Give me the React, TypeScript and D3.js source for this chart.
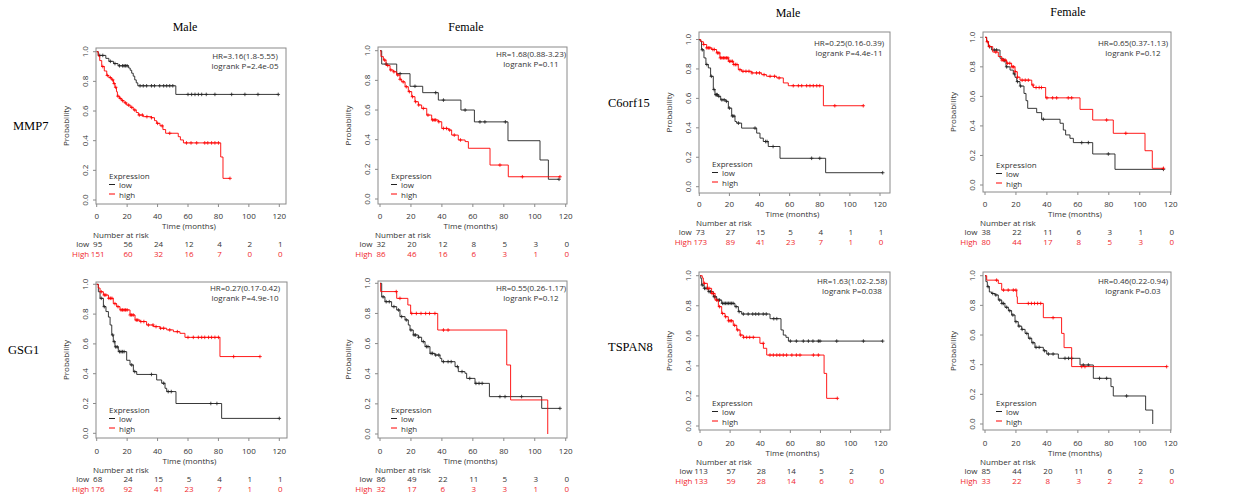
import React from 'react';
import * as d3 from 'd3';

type Step = [number, number];

const timeTicks = [0, 20, 40, 60, 80, 100, 120];
const probTicks = [0, 0.2, 0.4, 0.6, 0.8, 1.0];

// ---------- MMP7 Male ----------
const mmp7MaleLow: Step[] = [[0,1],[1,0.975],[6,0.955],[8,0.935],[11,0.92],[14,0.905],[21,0.89],[22,0.875],[23,0.855],[24,0.835],[25,0.81],[26,0.79],[27,0.77],[52,0.712],[119.3,0.712]];
const mmp7MaleLowCens = [2,4,9,12,15,17,18,19,20,28.5,30.6,32.8,36,38,41.4,44,46,48,50,60,62.4,64.6,66.8,69,72,77.7,88.7,97.4,106,119.3];
const mmp7MaleHigh: Step[] = [[0,1],[1,0.97],[2,0.94],[3.3,0.9],[5,0.87],[6.6,0.84],[8,0.825],[9.8,0.81],[11,0.785],[12,0.76],[13,0.73],[13.6,0.7],[15,0.685],[16.4,0.67],[18,0.655],[19.7,0.64],[22,0.625],[24,0.607],[26,0.59],[27.4,0.573],[30.6,0.562],[36,0.555],[38,0.535],[39.4,0.517],[41.6,0.5],[43.5,0.475],[45.3,0.45],[53.6,0.427],[55,0.405],[57,0.385],[81.5,0.29],[83,0.146],[87.6,0.146]];
const mmp7MaleHighCens = [4,7,9,10.5,11.5,12.5,14,15.5,17,19,21,23,25,28,30,33,36,40,43,48,59,62,65.7,71,73,75.5,77.7,80,87.6];
const mmp7MaleRiskLow = [95,56,24,12,4,2,1];
const mmp7MaleRiskHigh = [151,60,32,16,7,0,0];

// ---------- MMP7 Female ----------
const mmp7FemaleLow: Step[] = [[0,1],[1.1,0.91],[10.8,0.845],[19.4,0.76],[27.6,0.717],[37.7,0.667],[52.3,0.6],[61,0.52],[82.7,0.393],[103.4,0.263],[108.8,0.133],[115.7,0.133]];
const mmp7FemaleLowCens = [4,13,22.6,36,41,55,64.6,67.8,81,115.7];
const mmp7FemaleHigh: Step[] = [[0,1],[0.6,0.96],[2.2,0.937],[3.9,0.9],[6.5,0.87],[8.6,0.858],[10.8,0.836],[12.9,0.807],[14,0.79],[16.2,0.757],[18.3,0.724],[20.5,0.69],[22.6,0.656],[24.8,0.634],[26.9,0.611],[30.2,0.566],[33.4,0.533],[37.7,0.521],[39.9,0.476],[44.2,0.465],[46.3,0.431],[50.6,0.398],[55,0.387],[57.1,0.342],[71.1,0.229],[82.9,0.15],[116.3,0.15]];
const mmp7FemaleHighCens = [3,5,7,9,11.5,13,15,17,19,21,23,25,28,31,34,35,36,38,41,43,45,48,52,77.5,92,116.3];
const mmp7FemaleRiskLow = [32,20,12,8,5,3,0];
const mmp7FemaleRiskHigh = [86,46,16,6,3,1,0];

// ---------- GSG1 Male ----------
const gsg1MaleLow: Step[] = [[0,1],[1.1,0.95],[2.2,0.906],[4.4,0.85],[6.1,0.817],[7.7,0.78],[8.8,0.727],[9.9,0.66],[10.9,0.615],[12,0.58],[14.2,0.548],[19.7,0.49],[21.9,0.459],[24.1,0.414],[26.3,0.395],[39.4,0.358],[42.7,0.336],[44.9,0.302],[46,0.28],[52.1,0.2],[82.1,0.1],[120,0.1]];
const gsg1MaleLowCens = [3,5,10.5,11.5,12.5,13.5,15,16,17,18,23,25,36,44,47,49,75,79,120];
const gsg1MaleHigh: Step[] = [[0,1],[1,0.975],[2.2,0.95],[4.4,0.928],[7.7,0.906],[10.9,0.87],[13.1,0.85],[15.3,0.828],[21.9,0.794],[25.2,0.76],[28.5,0.75],[32.8,0.727],[37.2,0.716],[41.6,0.705],[46,0.694],[50.4,0.682],[54.7,0.671],[58,0.644],[81,0.515],[107.3,0.515]];
const gsg1MaleHighCens = [3,5,6,8,9,10,12,14,16,17,18,19,20,22,23,24,26,27,29,31,34,37,39,42,44,48,53,60,63.5,66.8,69,71,73.5,75.5,77.7,80,90,107.3];
const gsg1MaleRiskLow = [68,24,15,5,4,1,1];
const gsg1MaleRiskHigh = [176,92,41,23,7,1,0];

// ---------- GSG1 Female ----------
const gsg1FemaleLow: Step[] = [[0,1],[1.1,0.91],[3.2,0.878],[7.5,0.845],[10.8,0.823],[12.9,0.779],[16.2,0.757],[18.3,0.723],[19.4,0.69],[21.5,0.657],[24.8,0.642],[26.9,0.613],[29.1,0.58],[32.3,0.535],[35.5,0.524],[38.8,0.502],[39.9,0.48],[48.5,0.447],[50.6,0.414],[54.9,0.403],[56,0.369],[61.4,0.336],[70.7,0.248],[104.5,0.17],[116.3,0.17]];
const gsg1FemaleLowCens = [2,4,6,9,12,14,17,20,22,23,25,28,30,31,33,34,36,38,41,44,46,50,53,58,62,64,66,77.5,80.8,91.5,116.3];
const gsg1FemaleHigh: Step[] = [[0,1],[0.4,0.945],[10.8,0.9],[18,0.856],[19.8,0.8],[37.3,0.69],[81.9,0.458],[84.4,0.226],[108.4,0],[108.4,0]];
const gsg1FemaleHighCens = [10.5,12.9,20.5,23.5,26.5,29.5,32,35.5,41,44];
const gsg1FemaleRiskLow = [86,49,22,11,5,3,0];
const gsg1FemaleRiskHigh = [32,17,6,3,3,1,0];

// ---------- C6orf15 Male ----------
const c6MaleLow: Step[] = [[0,1],[0.5,0.99],[1.5,0.93],[3.1,0.875],[4.4,0.83],[6,0.807],[7.5,0.75],[9.3,0.66],[10.4,0.625],[12.6,0.614],[14.2,0.59],[17.7,0.58],[19.3,0.534],[21.5,0.48],[23.7,0.443],[24.8,0.432],[28.1,0.398],[38.1,0.364],[40.3,0.33],[42.5,0.307],[45.8,0.273],[53.6,0.193],[83.9,0.095],[121.8,0.095]];
const c6MaleLowCens = [2,5,8,9.8,11,11.5,12,13,15,16.5,18,20,22,23,26,37,44,45,49,74.6,80,121.8];
const c6MaleHigh: Step[] = [[0,1],[1,0.985],[2.7,0.966],[4.9,0.943],[8.2,0.932],[11.5,0.909],[13.7,0.875],[19.3,0.852],[22.6,0.83],[25.9,0.795],[28.1,0.784],[34.8,0.773],[41.4,0.761],[44.7,0.75],[51.4,0.739],[55.8,0.705],[59.1,0.686],[82.4,0.55],[108.9,0.55]];
const c6MaleHighCens = [3,5,6,7,9,10,12,13,14,15,16,17,18,19,20,21,22,23,24,25,27,29,31,33,35,38,40,43,47,50,53,62.4,65.8,68,71.3,73.5,75.7,78,80,90,108.9];
const c6MaleRiskLow = [73,27,15,5,4,1,1];
const c6MaleRiskHigh = [173,89,41,23,7,1,0];

// ---------- C6orf15 Female ----------
const c6FemaleLow: Step[] = [[0,1],[1.1,0.97],[2.2,0.937],[4.3,0.914],[9.7,0.858],[11.8,0.842],[13.6,0.8],[16.2,0.778],[18.3,0.752],[19.4,0.729],[20.5,0.7],[22.6,0.67],[25.2,0.62],[26.5,0.571],[27.6,0.519],[33.4,0.49],[36.6,0.445],[48.5,0.418],[50.6,0.372],[52.1,0.339],[54.9,0.316],[57.1,0.287],[69.6,0.21],[84,0.106],[115.3,0.106]];
const c6FemaleLowCens = [3,6,7.5,12.5,14,19,21,23,37.7,62.5,66.8,79.7,115.3];
const c6FemaleHigh: Step[] = [[0,1],[1,0.97],[2.2,0.937],[5,0.9],[8.6,0.87],[10.8,0.846],[14,0.824],[17.2,0.8],[19.4,0.767],[20.9,0.73],[22.6,0.71],[30.2,0.677],[31.2,0.66],[39.2,0.59],[61.4,0.512],[69.6,0.44],[82.9,0.35],[103.4,0.232],[108.1,0.113],[115.3,0.113]];
const c6FemaleHighCens = [1.5,3,7,11,12,13,14.5,16,17.5,18.5,19.5,21,24,26,28,31,33,35,36.5,40,43.7,46.3,53.8,56,78.6,91,115.3];
const c6FemaleRiskLow = [38,22,11,6,3,1,0];
const c6FemaleRiskHigh = [80,44,17,8,5,3,0];

// ---------- TSPAN8 Male ----------
const tspanMaleLow: Step[] = [[0,1],[0.5,0.982],[1.1,0.938],[2.7,0.916],[5.5,0.894],[8.9,0.86],[11.1,0.838],[14.4,0.816],[23.2,0.794],[25.5,0.761],[27.7,0.745],[46.5,0.714],[53.8,0.639],[55.3,0.605],[57.1,0.59],[58.7,0.565],[121.3,0.565]];
const tspanMaleLowCens = [1.5,3,4,6,7,9.5,10,12,13,15,16,17,18,19,20,21,22,24,26,28.8,32,35,37,39,42,44,49,51,60,64,68.6,72,75,78.6,79.7,90.8,108.5,121.3];
const tspanMaleHigh: Step[] = [[0,1],[1.5,0.985],[2.2,0.949],[4.9,0.916],[7.7,0.882],[10,0.838],[12.2,0.794],[14.4,0.749],[16.6,0.727],[18.8,0.7],[22.1,0.67],[24.4,0.639],[26.6,0.605],[28.8,0.59],[39.8,0.55],[42.1,0.517],[44.3,0.472],[82.4,0.35],[84.1,0.184],[91.2,0.184]];
const tspanMaleHighCens = [3,5,6,8,9,11,13,15,17,19,20,21,23,25,27,29,31,33,35.4,42,46.5,48.7,51,53,55.3,57.5,61,64,66.4,75.3,78.6,91.2];
const tspanMaleRiskLow = [113,57,28,14,5,2,0];
const tspanMaleRiskHigh = [133,59,28,14,6,0,0];

// ---------- TSPAN8 Female ----------
const tspanFemaleLow: Step[] = [[0,1],[0.6,0.96],[1.5,0.926],[2.8,0.89],[4.3,0.88],[6.5,0.87],[8.6,0.836],[10.8,0.813],[12.9,0.787],[15.1,0.764],[17.2,0.735],[19.4,0.69],[21.5,0.66],[23.7,0.638],[25.9,0.611],[28,0.578],[30.2,0.548],[32.3,0.517],[37.7,0.494],[39.9,0.472],[47.4,0.443],[61.4,0.398],[70,0.308],[81.4,0.252],[82.9,0.189],[103.8,0.094],[108.4,0],[108.4,0]];
const tspanFemaleLowCens = [2,5,7,9.5,11,12,14,16,18,20,22,24,27,29,31,33,35,38.5,41,44,51.7,54,56,63.5,66.8,74,78.6,91.5];
const tspanFemaleHigh: Step[] = [[0,1],[1.1,0.97],[8.6,0.948],[10.8,0.903],[20.5,0.858],[20.9,0.813],[37.7,0.717],[49.5,0.611],[51.1,0.515],[56,0.387],[117.4,0.387]];
const tspanFemaleHighCens = [7.5,12,15,18.3,20,28,30,32,34,36,44,62.5,64.6,117.4];
const tspanFemaleRiskLow = [85,44,20,11,6,2,0];
const tspanFemaleRiskHigh = [33,22,8,3,2,2,0];

const titles = [
  { text: 'Male', x: 185, y: 27 },
  { text: 'Female', x: 466, y: 27 },
  { text: 'Male', x: 788, y: 13 },
  { text: 'Female', x: 1068, y: 12 },
];
const genes = [
  { text: 'MMP7', x: 13, y: 126 },
  { text: 'GSG1', x: 8, y: 350 },
  { text: 'C6orf15', x: 608, y: 103 },
  { text: 'TSPAN8', x: 608, y: 347 },
];

interface Layout { l: number; t: number; r: number; b: number; x0: number; x120: number; y0: number; y1: number; hrX: number; hrY: number; tickY: number; legY: number; }
interface PanelDef {
  low: Step[]; lowC: number[]; high: Step[]; highC: number[];
  riskLow: number[]; riskHigh: number[]; hr: string; p: string; L: Layout;
}

const panels: PanelDef[] = [
  { low: mmp7MaleLow, lowC: mmp7MaleLowCens, high: mmp7MaleHigh, highC: mmp7MaleHighCens, riskLow: mmp7MaleRiskLow, riskHigh: mmp7MaleRiskHigh, hr: 'HR=3.16(1.8-5.55)', p: 'logrank P=2.4e-05',
    L: { l: 96, t: 48, r: 286, b: 204, x0: 96.7, x120: 279.3, y0: 200, y1: 51.7, hrX: 245, hrY: 55, tickY: 215, legY: 175 } },
  { low: mmp7FemaleLow, lowC: mmp7FemaleLowCens, high: mmp7FemaleHigh, highC: mmp7FemaleHighCens, riskLow: mmp7FemaleRiskLow, riskHigh: mmp7FemaleRiskHigh, hr: 'HR=1.68(0.88-3.23)', p: 'logrank P=0.11',
    L: { l: 378, t: 47, r: 567, b: 204, x0: 380, x120: 565.7, y0: 199, y1: 50.7, hrX: 531, hrY: 53, tickY: 215, legY: 175 } },
  { low: gsg1MaleLow, lowC: gsg1MaleLowCens, high: gsg1MaleHigh, highC: gsg1MaleHighCens, riskLow: gsg1MaleRiskLow, riskHigh: gsg1MaleRiskHigh, hr: 'HR=0.27(0.17-0.42)', p: 'logrank P=4.9e-10',
    L: { l: 96, t: 282, r: 287, b: 438, x0: 96.7, x120: 279.3, y0: 433.3, y1: 284.3, hrX: 245, hrY: 287, tickY: 450, legY: 409 } },
  { low: gsg1FemaleLow, lowC: gsg1FemaleLowCens, high: gsg1FemaleHigh, highC: gsg1FemaleHighCens, riskLow: gsg1FemaleRiskLow, riskHigh: gsg1FemaleRiskHigh, hr: 'HR=0.55(0.26-1.17)', p: 'logrank P=0.12',
    L: { l: 378, t: 281, r: 567, b: 438, x0: 380, x120: 565.7, y0: 434, y1: 283.3, hrX: 531, hrY: 287, tickY: 450, legY: 409 } },
  { low: c6MaleLow, lowC: c6MaleLowCens, high: c6MaleHigh, highC: c6MaleHighCens, riskLow: c6MaleRiskLow, riskHigh: c6MaleRiskHigh, hr: 'HR=0.25(0.16-0.39)', p: 'logrank P=4.4e-11',
    L: { l: 699, t: 32, r: 890, b: 193, x0: 699.3, x120: 880, y0: 186.7, y1: 39.5, hrX: 849, hrY: 42, tickY: 203, legY: 163 } },
  { low: c6FemaleLow, lowC: c6FemaleLowCens, high: c6FemaleHigh, highC: c6FemaleHighCens, riskLow: c6FemaleRiskLow, riskHigh: c6FemaleRiskHigh, hr: 'HR=0.65(0.37-1.13)', p: 'logrank P=0.12',
    L: { l: 983, t: 32, r: 1171, b: 192, x0: 985, x120: 1170.7, y0: 185, y1: 37.3, hrX: 1133, hrY: 42, tickY: 203, legY: 164 } },
  { low: tspanMaleLow, lowC: tspanMaleLowCens, high: tspanMaleHigh, highC: tspanMaleHighCens, riskLow: tspanMaleRiskLow, riskHigh: tspanMaleRiskHigh, hr: 'HR=1.63(1.02-2.58)', p: 'logrank P=0.038',
    L: { l: 699, t: 272, r: 890, b: 430, x0: 700, x120: 880.7, y0: 426, y1: 275.7, hrX: 852, hrY: 280, tickY: 442, legY: 402 } },
  { low: tspanFemaleLow, lowC: tspanFemaleLowCens, high: tspanFemaleHigh, highC: tspanFemaleHighCens, riskLow: tspanFemaleRiskLow, riskHigh: tspanFemaleRiskHigh, hr: 'HR=0.46(0.22-0.94)', p: 'logrank P=0.03',
    L: { l: 983, t: 272, r: 1171, b: 430, x0: 985, x120: 1170.7, y0: 424, y1: 275.7, hrX: 1133, hrY: 280, tickY: 442, legY: 402 } },
];

const SANS = "'Open Sans', 'DejaVu Sans', sans-serif";
const SERIF = "'Liberation Serif', 'Times New Roman', serif";
const LOW_COLOR = '#222';
const HIGH_COLOR = '#ff0000';
const HIGH_TEXT = '#f0282d';
const AXIS_COLOR = '#8a8a8a';
const TEXT_COLOR = '#333';
const FS = 8;

function survAt(steps: Step[], t: number): number {
  let s = 1;
  for (const [ti, si] of steps) { if (ti <= t) s = si; else break; }
  return s;
}

function Curve({ steps, cens, x, y, color }: { steps: Step[]; cens: number[]; x: d3.ScaleLinear<number, number>; y: d3.ScaleLinear<number, number>; color: string }) {
  const line = d3.line<Step>().x(d => x(d[0])).y(d => y(d[1])).curve(d3.curveStepAfter);
  return (
    <g>
      <path d={line(steps) || ''} fill="none" stroke={color} strokeWidth={0.9} />
      {cens.map((c, i) => {
        const cx = x(c); const cy = y(survAt(steps, c));
        return <path key={i} d={`M${cx - 1.8},${cy}H${cx + 1.8}M${cx},${cy - 1.8}V${cy + 1.8}`} stroke={color} strokeWidth={0.8} />;
      })}
    </g>
  );
}

function Panel({ p }: { p: PanelDef }) {
  const L = p.L;
  const x = d3.scaleLinear().domain([0, 120]).range([L.x0, L.x120]);
  const y = d3.scaleLinear().domain([0, 1]).range([L.y0, L.y1]);
  const midY = (L.t + L.b) / 2;
  const midX = (L.l + L.r) / 2 - 2;
  const rows = { time: L.tickY + 10, nar: L.tickY + 19, low: L.tickY + 28.5, high: L.tickY + 38 };
  return (
    <g fontFamily={SANS} fontSize={FS}>
      <rect x={L.l} y={L.t} width={L.r - L.l} height={L.b - L.t} fill="#fff" stroke={AXIS_COLOR} strokeWidth={1} />
      {timeTicks.map(t => (
        <g key={'xt' + t}>
          <line x1={x(t)} x2={x(t)} y1={L.b} y2={L.b + 3} stroke={AXIS_COLOR} />
          <text x={x(t)} y={L.tickY} textAnchor="middle" dominantBaseline="central" fill={TEXT_COLOR}>{t}</text>
        </g>
      ))}
      {probTicks.map(v => (
        <g key={'yt' + v}>
          <line x1={L.l - 3} x2={L.l} y1={y(v)} y2={y(v)} stroke={AXIS_COLOR} />
          <text transform={`translate(${L.l - 12},${y(v)}) rotate(-90)`} textAnchor="middle" dominantBaseline="central" fill={TEXT_COLOR}>{v.toFixed(1)}</text>
        </g>
      ))}
      <text transform={`translate(${L.l - 31},${midY}) rotate(-90)`} textAnchor="middle" dominantBaseline="central" fill={TEXT_COLOR}>Probability</text>
      <text x={midX} y={rows.time} textAnchor="middle" dominantBaseline="central" fill={TEXT_COLOR}>Time (months)</text>

      <Curve steps={p.low} cens={p.lowC} x={x} y={y} color={LOW_COLOR} />
      <Curve steps={p.high} cens={p.highC} x={x} y={y} color={HIGH_COLOR} />

      <text x={L.hrX} y={L.hrY} textAnchor="middle" dominantBaseline="central" fill={TEXT_COLOR}>{p.hr}</text>
      <text x={L.hrX} y={L.hrY + 10} textAnchor="middle" dominantBaseline="central" fill={TEXT_COLOR}>{p.p}</text>

      <text x={L.l + 13} y={L.legY} dominantBaseline="central" fill={TEXT_COLOR}>Expression</text>
      <line x1={L.l + 13} x2={L.l + 19} y1={L.legY + 9.5} y2={L.legY + 9.5} stroke={LOW_COLOR} />
      <text x={L.l + 23} y={L.legY + 9.5} dominantBaseline="central" fill={TEXT_COLOR}>low</text>
      <line x1={L.l + 13} x2={L.l + 19} y1={L.legY + 19} y2={L.legY + 19} stroke={HIGH_COLOR} />
      <text x={L.l + 23} y={L.legY + 19} dominantBaseline="central" fill={TEXT_COLOR}>high</text>

      <text x={L.l - 3} y={rows.nar} dominantBaseline="central" fill={TEXT_COLOR}>Number at risk</text>
      <text x={L.x0 - 7.5} y={rows.low} textAnchor="end" dominantBaseline="central" fill={TEXT_COLOR}>low</text>
      <text x={L.x0 - 7.5} y={rows.high} textAnchor="end" dominantBaseline="central" fill={HIGH_TEXT}>High</text>
      {timeTicks.map((t, i) => (
        <g key={'r' + t}>
          <text x={x(t) + 1} y={rows.low} textAnchor="middle" dominantBaseline="central" fill={TEXT_COLOR}>{p.riskLow[i]}</text>
          <text x={x(t) + 1} y={rows.high} textAnchor="middle" dominantBaseline="central" fill={HIGH_TEXT}>{p.riskHigh[i]}</text>
        </g>
      ))}
    </g>
  );
}

export default function App() {
  return (
    <svg width={1239} height={499} style={{ position: 'absolute', left: 0, top: 0, background: '#fff' }}>
      <rect x={0} y={0} width={1239} height={499} fill="#fff" />
      {titles.map((t, i) => (
        <text key={'t' + i} x={t.x} y={t.y} textAnchor="middle" dominantBaseline="central" fontFamily={SERIF} fontSize={12} fill="#000">{t.text}</text>
      ))}
      {genes.map((g, i) => (
        <text key={'g' + i} x={g.x} y={g.y} dominantBaseline="central" fontFamily={SERIF} fontSize={12.5} fill="#000">{g.text}</text>
      ))}
      {panels.map((p, i) => <Panel key={i} p={p} />)}
    </svg>
  );
}
